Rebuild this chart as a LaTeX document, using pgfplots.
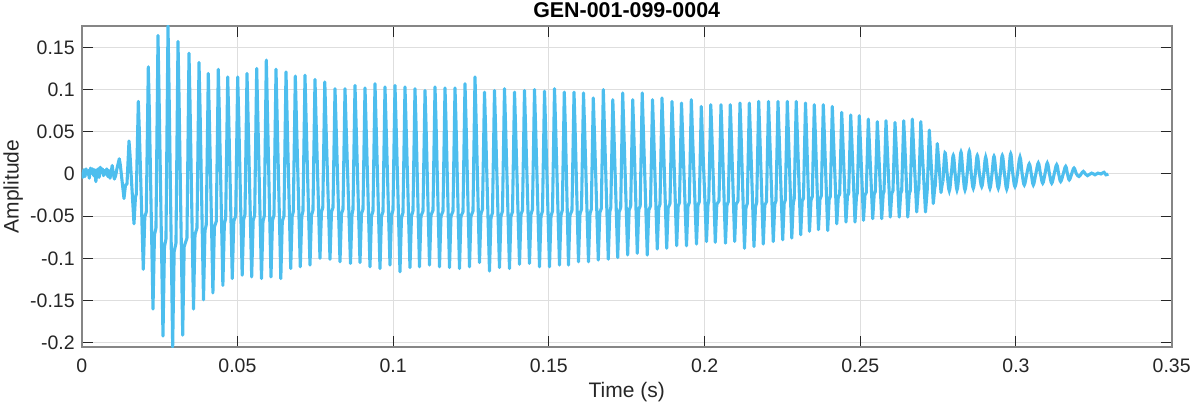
\documentclass[border=0pt]{standalone}
\usepackage{fontspec}
\setmainfont{Liberation Sans}
\usepackage{pgfplots}
\pgfplotsset{compat=1.18}
\definecolor{wave}{RGB}{77,190,238}
\definecolor{gridc}{RGB}{222,222,222}
\definecolor{axc}{RGB}{134,134,134}
\definecolor{txt}{RGB}{38,38,38}
\begin{document}
\begin{tikzpicture}
\useasboundingbox (-40.85bp,-28.5bp) rectangle (555.65bp,173.5bp);
\begin{axis}[
  scale only axis, width=545bp, height=160.5bp,
  xmin=0, xmax=0.35, ymin=-0.2050, ymax=0.1753,
  xtick={0,0.05,0.1,0.15,0.2,0.25,0.3,0.35},
  xticklabels={0,0.05,0.1,0.15,0.2,0.25,0.3,0.35},
  ytick={-0.2,-0.15,-0.1,-0.05,0,0.05,0.1,0.15},
  yticklabels={-0.2,-0.15,-0.1,-0.05,0,0.05,0.1,0.15},
  tick label style={font=\fontsize{9.75bp}{11bp}\selectfont, text=txt},
  xticklabel style={yshift=-2.25bp},
  grid=major, major grid style={gridc, line width=0.5bp},
  axis line style={axc, line width=1bp},
  major tick length=5.5bp,
  every tick/.style={txt, line width=0.5bp},
  tick align=inside,
  every axis title shift=0pt,
  title={\bfseries GEN-001-099-0004},
  title style={at={(axis description cs:0.5,1)}, anchor=base, yshift=4.35bp, font=\fontsize{10.7bp}{12bp}\selectfont, text=black},
  xlabel={Time (s)},
  xlabel style={at={(axis description cs:0.5,0)}, anchor=base, yshift=-25bp, font=\fontsize{10.5bp}{12bp}\selectfont, text=txt},
  ylabel={Amplitude},
  ylabel style={at={(axis description cs:-0.0578,0.5)}, anchor=base, font=\fontsize{10.5bp}{12bp}\selectfont, text=txt},
]
\addplot[wave, line width=1.55bp, line join=round] coordinates {
(0.00000,0.002)(0.00035,-0.004)(0.00070,0.005)(0.00105,-0.003)(0.00140,0.006)(0.00175,0.000)
(0.00210,0.004)(0.00245,-0.005)(0.00280,0.007)(0.00315,0.001)(0.00350,0.006)(0.00385,-0.002)
(0.00420,0.005)(0.00455,-0.009)(0.00490,0.003)(0.00525,0.006)(0.00560,-0.004)(0.00595,0.008)
(0.00630,0.002)(0.00665,0.006)(0.00700,-0.002)(0.00735,0.004)(0.00770,0.000)(0.00805,0.006)
(0.00840,-0.003)(0.00875,0.004)(0.00910,-0.005)(0.00945,0.002)(0.00980,0.010)(0.01015,0.000)
(0.01050,-0.006)(0.01090,-0.002)(0.01130,0.006)
(0.01207,0.018)(0.01239,0.011)(0.01358,-0.029)(0.01406,-0.013)(0.01454,-0.012)
(0.01519,0.039)(0.01551,0.023)(0.01679,-0.059)(0.01727,-0.027)(0.01753,-0.024)
(0.01818,0.086)(0.01850,0.052)(0.01978,-0.113)(0.02026,-0.051)(0.02074,-0.045)
(0.02139,0.127)(0.02171,0.076)(0.02289,-0.160)(0.02337,-0.072)(0.02385,-0.064)
(0.02450,0.164)(0.02482,0.098)(0.02610,-0.192)(0.02658,-0.086)(0.02706,-0.077)
(0.02771,0.1753)(0.02803,0.105)(0.02921,-0.2050)(0.02969,-0.092)(0.03027,-0.082)
(0.03092,0.157)(0.03124,0.094)(0.03243,-0.191)(0.03291,-0.086)(0.03380,-0.076)
(0.03445,0.143)(0.03477,0.086)(0.03590,-0.160)(0.03638,-0.072)(0.03702,-0.064)
(0.03767,0.132)(0.03799,0.079)(0.03911,-0.149)(0.03959,-0.067)(0.04000,-0.060)
(0.04065,0.119)(0.04097,0.071)(0.04213,-0.141)(0.04261,-0.063)(0.04322,-0.056)
(0.04386,0.124)(0.04418,0.074)(0.04533,-0.132)(0.04581,-0.059)(0.04623,-0.053)
(0.04688,0.115)(0.04720,0.069)(0.04835,-0.124)(0.04883,-0.056)(0.04944,-0.050)
(0.05009,0.115)(0.05041,0.069)(0.05153,-0.120)(0.05201,-0.054)(0.05243,-0.048)
(0.05308,0.119)(0.05340,0.071)(0.05458,-0.122)(0.05506,-0.055)(0.05554,-0.049)
(0.05619,0.125)(0.05651,0.075)(0.05773,-0.124)(0.05821,-0.056)(0.05863,-0.050)
(0.05928,0.135)(0.05960,0.081)(0.06078,-0.122)(0.06126,-0.055)(0.06174,-0.049)
(0.06239,0.124)(0.06271,0.074)(0.06393,-0.124)(0.06441,-0.056)(0.06495,-0.050)
(0.06560,0.121)(0.06592,0.073)(0.06711,-0.112)(0.06759,-0.050)(0.06794,-0.045)
(0.06859,0.116)(0.06891,0.070)(0.07019,-0.110)(0.07067,-0.050)(0.07105,-0.044)
(0.07170,0.117)(0.07202,0.070)(0.07330,-0.108)(0.07378,-0.049)(0.07426,-0.043)
(0.07491,0.112)(0.07523,0.067)(0.07651,-0.100)(0.07699,-0.045)(0.07741,-0.040)
(0.07806,0.109)(0.07838,0.065)(0.07973,-0.101)(0.08021,-0.045)(0.08069,-0.040)
(0.08134,0.101)(0.08166,0.061)(0.08294,-0.104)(0.08342,-0.047)(0.08390,-0.042)
(0.08455,0.101)(0.08487,0.061)(0.08631,-0.106)(0.08679,-0.048)(0.08711,-0.042)
(0.08776,0.105)(0.08808,0.063)(0.08936,-0.105)(0.08984,-0.047)(0.09032,-0.042)
(0.09097,0.102)(0.09129,0.061)(0.09257,-0.110)(0.09305,-0.050)(0.09353,-0.044)
(0.09418,0.107)(0.09450,0.064)(0.09578,-0.112)(0.09626,-0.050)(0.09674,-0.045)
(0.09739,0.103)(0.09771,0.062)(0.09899,-0.108)(0.09947,-0.049)(0.09995,-0.043)
(0.10060,0.105)(0.10092,0.063)(0.10220,-0.116)(0.10268,-0.052)(0.10316,-0.046)
(0.10381,0.103)(0.10413,0.062)(0.10541,-0.111)(0.10589,-0.050)(0.10637,-0.044)
(0.10702,0.101)(0.10734,0.061)(0.10846,-0.110)(0.10895,-0.050)(0.10959,-0.044)
(0.11024,0.099)(0.11056,0.059)(0.11168,-0.108)(0.11216,-0.049)(0.11280,-0.043)
(0.11345,0.103)(0.11377,0.062)(0.11489,-0.110)(0.11537,-0.050)(0.11601,-0.044)
(0.11666,0.102)(0.11698,0.061)(0.11810,-0.111)(0.11858,-0.050)(0.11922,-0.044)
(0.11987,0.102)(0.12019,0.061)(0.12131,-0.112)(0.12179,-0.050)(0.12243,-0.045)
(0.12308,0.107)(0.12340,0.064)(0.12452,-0.110)(0.12500,-0.050)(0.12564,-0.044)
(0.12629,0.115)(0.12661,0.069)(0.12773,-0.105)(0.12821,-0.047)(0.12869,-0.042)
(0.12934,0.097)(0.12966,0.058)(0.13094,-0.115)(0.13142,-0.052)(0.13190,-0.046)
(0.13255,0.099)(0.13287,0.059)(0.13415,-0.111)(0.13463,-0.050)(0.13511,-0.044)
(0.13576,0.101)(0.13608,0.061)(0.13736,-0.112)(0.13784,-0.050)(0.13833,-0.045)
(0.13898,0.097)(0.13930,0.058)(0.14058,-0.107)(0.14106,-0.048)(0.14154,-0.043)
(0.14218,0.099)(0.14250,0.059)(0.14378,-0.106)(0.14426,-0.048)(0.14474,-0.042)
(0.14540,0.100)(0.14572,0.060)(0.14700,-0.110)(0.14748,-0.050)(0.14796,-0.044)
(0.14861,0.098)(0.14893,0.059)(0.15021,-0.110)(0.15069,-0.050)(0.15117,-0.044)
(0.15182,0.101)(0.15214,0.061)(0.15342,-0.108)(0.15390,-0.049)(0.15432,-0.043)
(0.15496,0.097)(0.15528,0.058)(0.15631,-0.108)(0.15679,-0.049)(0.15743,-0.043)
(0.15808,0.097)(0.15840,0.058)(0.15952,-0.104)(0.16000,-0.047)(0.16048,-0.042)
(0.16113,0.096)(0.16145,0.058)(0.16273,-0.104)(0.16321,-0.047)(0.16363,-0.042)
(0.16427,0.090)(0.16459,0.054)(0.16588,-0.102)(0.16636,-0.046)(0.16684,-0.041)
(0.16749,0.100)(0.16781,0.060)(0.16909,-0.101)(0.16957,-0.045)(0.16989,-0.040)
(0.17054,0.088)(0.17086,0.053)(0.17211,-0.099)(0.17259,-0.045)(0.17307,-0.040)
(0.17371,0.096)(0.17403,0.058)(0.17531,-0.096)(0.17579,-0.043)(0.17628,-0.038)
(0.17693,0.088)(0.17725,0.053)(0.17840,-0.094)(0.17888,-0.042)(0.17933,-0.038)
(0.17998,0.096)(0.18030,0.058)(0.18161,-0.096)(0.18209,-0.043)(0.18264,-0.038)
(0.18329,0.088)(0.18361,0.053)(0.18482,-0.089)(0.18530,-0.040)(0.18569,-0.036)
(0.18634,0.090)(0.18666,0.054)(0.18784,-0.088)(0.18832,-0.040)(0.18890,-0.035)
(0.18955,0.086)(0.18987,0.052)(0.19105,-0.085)(0.19153,-0.038)(0.19195,-0.034)
(0.19260,0.084)(0.19292,0.050)(0.19420,-0.085)(0.19468,-0.038)(0.19510,-0.034)
(0.19575,0.088)(0.19607,0.053)(0.19741,-0.083)(0.19789,-0.037)(0.19831,-0.033)
(0.19895,0.080)(0.19927,0.048)(0.20062,-0.080)(0.20110,-0.036)(0.20135,-0.032)
(0.20200,0.082)(0.20233,0.049)(0.20345,-0.081)(0.20393,-0.036)(0.20463,-0.032)
(0.20528,0.082)(0.20560,0.049)(0.20672,-0.082)(0.20720,-0.037)(0.20762,-0.033)
(0.20826,0.082)(0.20858,0.049)(0.20967,-0.080)(0.21015,-0.036)(0.21073,-0.032)
(0.21138,0.084)(0.21170,0.050)(0.21282,-0.088)(0.21330,-0.040)(0.21372,-0.035)
(0.21437,0.084)(0.21469,0.050)(0.21587,-0.086)(0.21635,-0.039)(0.21674,-0.034)
(0.21738,0.086)(0.21770,0.052)(0.21886,-0.083)(0.21934,-0.037)(0.21988,-0.033)
(0.22053,0.086)(0.22085,0.052)(0.22207,-0.080)(0.22255,-0.036)(0.22293,-0.032)
(0.22358,0.086)(0.22390,0.052)(0.22509,-0.078)(0.22557,-0.035)(0.22592,-0.031)
(0.22657,0.086)(0.22689,0.052)(0.22801,-0.076)(0.22849,-0.034)(0.22878,-0.030)
(0.22943,0.086)(0.22975,0.052)(0.23087,-0.072)(0.23135,-0.032)(0.23176,-0.029)
(0.23241,0.084)(0.23273,0.050)(0.23370,-0.068)(0.23418,-0.031)(0.23459,-0.027)
(0.23524,0.082)(0.23556,0.049)(0.23658,-0.066)(0.23706,-0.030)(0.23748,-0.026)
(0.23813,0.082)(0.23845,0.049)(0.23954,-0.067)(0.24002,-0.030)(0.24037,-0.027)
(0.24102,0.080)(0.24134,0.048)(0.24246,-0.059)(0.24294,-0.027)(0.24339,-0.024)
(0.24404,0.073)(0.24436,0.044)(0.24541,-0.057)(0.24589,-0.026)(0.24628,-0.023)
(0.24693,0.070)(0.24725,0.042)(0.24831,-0.057)(0.24879,-0.026)(0.24904,-0.023)
(0.24969,0.069)(0.25001,0.041)(0.25103,-0.055)(0.25151,-0.025)(0.25193,-0.022)
(0.25258,0.065)(0.25290,0.039)(0.25399,-0.053)(0.25447,-0.024)(0.25482,-0.021)
(0.25547,0.062)(0.25579,0.037)(0.25688,-0.053)(0.25736,-0.024)(0.25762,-0.021)
(0.25826,0.063)(0.25858,0.038)(0.25964,-0.051)(0.26012,-0.023)(0.26050,-0.020)
(0.26115,0.061)(0.26147,0.037)(0.26250,-0.051)(0.26298,-0.023)(0.26330,-0.020)
(0.26395,0.063)(0.26427,0.038)(0.26526,-0.051)(0.26574,-0.023)(0.26606,-0.020)
(0.26671,0.065)(0.26703,0.039)(0.26812,-0.045)(0.26860,-0.020)(0.26879,-0.018)
(0.26944,0.062)(0.26976,0.037)(0.27094,-0.045)(0.27152,-0.018)
(0.27217,0.052)(0.27249,0.031)(0.27345,-0.035)(0.27393,-0.016)(0.27409,-0.014)
(0.27473,0.036)(0.27506,0.022)(0.27592,-0.022)(0.27640,-0.010)(0.27656,-0.009)
};
\addplot[wave, line width=1.55bp, smooth, tension=0.6] coordinates {
(0.27656,-0.009)
(0.27721,0.025)(0.27790,0.000)(0.27859,-0.020)(0.27923,0.000)
(0.27987,0.022)(0.28047,0.000)(0.28106,-0.019)(0.28170,0.000)
(0.28234,0.026)(0.28298,0.000)(0.28362,-0.019)(0.28431,0.000)
(0.28501,0.027)(0.28565,0.000)(0.28629,-0.017)(0.28693,0.000)
(0.28758,0.022)(0.28828,0.000)(0.28899,-0.015)(0.28963,0.000)
(0.29027,0.020)(0.29096,0.000)(0.29165,-0.017)(0.29229,0.000)
(0.29294,0.021)(0.29363,0.000)(0.29432,-0.017)(0.29496,0.000)
(0.29561,0.022)(0.29631,0.000)(0.29702,-0.018)(0.29766,0.000)
(0.29830,0.024)(0.29899,0.000)(0.29968,-0.015)(0.30048,0.000)
(0.30129,0.020)(0.30198,0.000)(0.30267,-0.013)(0.30347,0.000)
(0.30427,0.012)(0.30492,0.000)(0.30556,-0.013)(0.30636,0.000)
(0.30717,0.013)(0.30787,0.000)(0.30858,-0.011)(0.30931,0.000)
(0.31006,0.013)(0.31076,0.000)(0.31147,-0.011)(0.31227,0.000)
(0.31307,0.011)(0.31371,0.000)(0.31435,-0.009)(0.31516,0.000)
(0.31596,0.009)(0.31654,0.000)(0.31711,-0.007)(0.31787,0.000)
(0.31863,0.007)(0.31943,0.000)(0.32023,-0.003)(0.32092,0.000)
(0.32162,0.003)(0.32229,0.000)(0.32296,-0.002)
(0.32431,0.001)(0.32537,-0.001)(0.32633,0.001)(0.32729,0.000)(0.32825,0.002)(0.32889,-0.001)(0.32963,0.000)
};
\end{axis}
\end{tikzpicture}
\end{document}
